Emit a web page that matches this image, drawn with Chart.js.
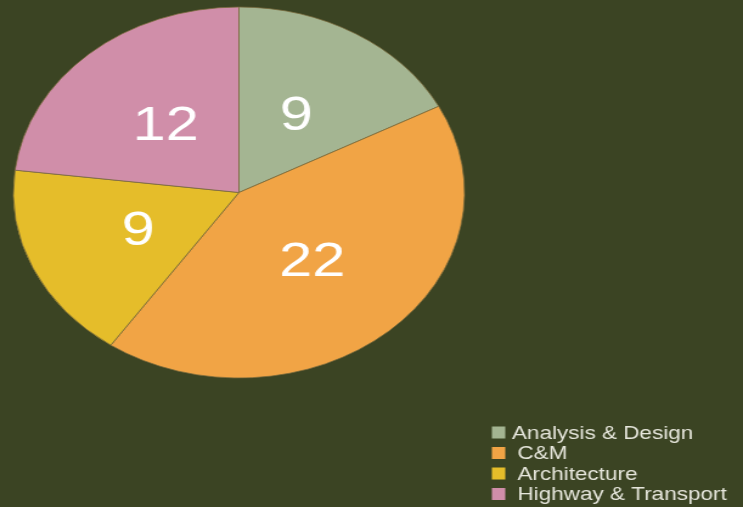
<!DOCTYPE html>
<html>
<head>
<meta charset="utf-8">
<script src="https://cdn.jsdelivr.net/npm/chart.js@4/dist/chart.umd.min.js"></script>
<style>
  html, body { margin: 0; padding: 0; background: #3b4423; overflow: hidden; }
  #c { display: block; width: 743px; height: 507px; }
</style>
</head>
<body>
<canvas id="c" width="611" height="507" style="width:743px;height:507px"></canvas>
<script>
const categories = ["Analysis & Design", "C&M", "Architecture", "Highway & Transport"];
const counts = [9, 22, 9, 12];
const sliceColors = ["#a4b592", "#f1a445", "#e5bd2a", "#d08ea9"];

const sliceLabels = {
  id: 'sliceLabels',
  afterDatasetsDraw(chart) {
    const ctx = chart.ctx;
    const meta = chart.getDatasetMeta(0);
    ctx.save();
    ctx.font = '49px "Liberation Sans", Arial, sans-serif';
    ctx.fillStyle = '#ffffff';
    ctx.textAlign = 'center';
    ctx.textBaseline = 'middle';
    meta.data.forEach((arc, i) => {
      const mid = (arc.startAngle + arc.endAngle) / 2;
      const r = arc.outerRadius * 0.49;
      const x = arc.x + Math.cos(mid) * r;
      const y = arc.y + Math.sin(mid) * r;
      ctx.fillText(String(chart.data.datasets[0].data[i]), x, y + 2);
    });
    ctx.restore();
  }
};

const sideLegend = {
  id: 'sideLegend',
  afterDraw(chart) {
    const ctx = chart.ctx;
    const ds = chart.data.datasets[0];
    ctx.save();
    ctx.font = '18.5px "Liberation Sans", Arial, sans-serif';
    ctx.textBaseline = 'middle';
    ctx.textAlign = 'left';
    chart.data.labels.forEach((lab, i) => {
      const cy = 432.5 + i * 20.5;
      ctx.fillStyle = ds.backgroundColor[i];
      ctx.fillRect(404.5, cy - 6, 11, 12);
      ctx.fillStyle = '#e6e6dc';
      ctx.fillText(lab, i === 0 ? 421 : 425.5, cy + 1);
    });
    ctx.restore();
  }
};

new Chart(document.getElementById('c'), {
  type: 'pie',
  data: {
    labels: categories,
    datasets: [{
      data: counts,
      backgroundColor: sliceColors,
      borderColor: 'rgba(120,105,60,0.75)',
      borderWidth: 1
    }]
  },
  options: {
    responsive: false,
    animation: false,
    devicePixelRatio: 1,
    layout: { padding: { left: 10.5, right: 228.5, top: 6.5, bottom: 128.5 } },
    plugins: {
      legend: { display: false },
      tooltip: { enabled: false }
    }
  },
  plugins: [sliceLabels, sideLegend]
});
</script>
</body>
</html>
